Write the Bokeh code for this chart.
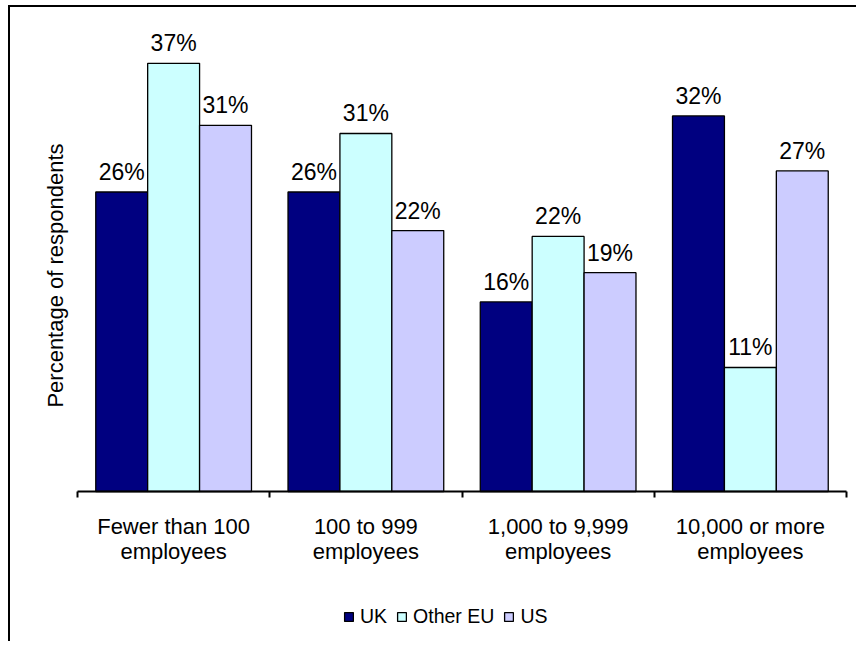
import math
from bokeh.plotting import figure
from bokeh.models import (ColumnDataSource, FixedTicker, Range1d, Legend, LegendItem,
                          LabelSet, Label)
from bokeh.core.properties import value
from bokeh.embed import file_html
from bokeh.resources import INLINE

categories = ["Fewer than 100 employees", "100 to 999 employees",
              "1,000 to 9,999 employees", "10,000 or more employees"]
cat_labels = ["Fewer than 100\nemployees", "100 to 999\nemployees",
              "1,000 to 9,999\nemployees", "10,000 or more\nemployees"]
series = ["UK", "Other EU", "US"]
uk = [25.6, 25.6, 16.2, 32.1]
other_eu = [36.6, 30.6, 21.8, 10.6]
us = [31.3, 22.3, 18.7, 27.4]
colors = ["#000080", "#CCFFFF", "#CCCCFF"]
y_title = "Percentage of respondents"

FONT = "Liberation Sans"

# layout (pixels inside the figure)
W, H = 848, 636
AX_LEFT, AX_RIGHT = 67, 836      # pixel extent of the category axis
BASE_Y = 484                     # pixel row of the 0% baseline (from top)
PX_PER_PCT = 11.7
n = len(categories)
px_per_cat = (AX_RIGHT - AX_LEFT) / n
x_range = Range1d(-AX_LEFT / px_per_cat, n + (W - AX_RIGHT) / px_per_cat)
y_range = Range1d(-(H - BASE_Y) / PX_PER_PCT, BASE_Y / PX_PER_PCT)

p = figure(width=W, height=H, x_range=x_range, y_range=y_range,
           output_backend="svg", toolbar_location=None,
           min_border_left=0, min_border_right=0, min_border_top=0, min_border_bottom=0,
           outline_line_color=None,
           styles={"border-left": "2px solid black", "border-top": "2px solid black",
                   "margin-left": "8px", "margin-top": "5px"})
p.xgrid.visible = False
p.ygrid.visible = False
p.yaxis.visible = False

offsets = [-0.27, 0.0, 0.27]
bar_w = 0.27
items = []
for name, vals, col, off in zip(series, [uk, other_eu, us], colors, offsets):
    xs = [i + 0.5 + off for i in range(n)]
    src = ColumnDataSource(dict(x=xs, top=vals, lab=[f"{round(v)}%" for v in vals]))
    r = p.vbar(x="x", top="top", bottom=0, width=bar_w, source=src, fill_color=col,
               line_color="black", line_width=1.3)
    items.append(LegendItem(label=name, renderers=[r]))
    ls = LabelSet(x="x", y="top", text="lab", source=src, text_align="center",
                  text_baseline="alphabetic", y_offset=12, text_font=value(FONT),
                  text_font_size=value("23px"), text_color="black")
    p.add_layout(ls)

xa = p.xaxis[0]
xa.fixed_location = 0
xa.bounds = (0, n)
xa.ticker = FixedTicker(ticks=[i + 0.5 for i in range(n)],
                        minor_ticks=[float(i) for i in range(n + 1)])
xa.major_label_overrides = {i + 0.5: lab for i, lab in enumerate(cat_labels)}
xa.major_tick_in = 0
xa.major_tick_out = 0
xa.minor_tick_in = 0
xa.minor_tick_out = 6
xa.minor_tick_line_width = 2
xa.minor_tick_line_color = "black"
xa.axis_line_width = 2
xa.axis_line_color = "black"
xa.major_label_standoff = 16
xa.major_label_text_font = FONT
xa.major_label_text_font_size = "22px"
xa.major_label_text_line_height = 1.0
xa.major_label_text_color = "black"

ylab = Label(x=45, y=H - 268, x_units="screen", y_units="screen", text=y_title,
             angle=math.pi / 2, text_align="center", text_baseline="middle",
             text_font=FONT, text_font_size="22px", text_color="black")
p.add_layout(ylab)

legend = Legend(items=items, orientation="horizontal", location=(333, 15),
                glyph_width=11, glyph_height=11, label_standoff=6, spacing=9,
                label_text_font=FONT, label_text_font_size="19.5px",
                label_text_color="black", border_line_color=None,
                background_fill_alpha=0, padding=0, margin=0)
p.add_layout(legend)

open("out.html", "w").write(file_html(p, INLINE))
